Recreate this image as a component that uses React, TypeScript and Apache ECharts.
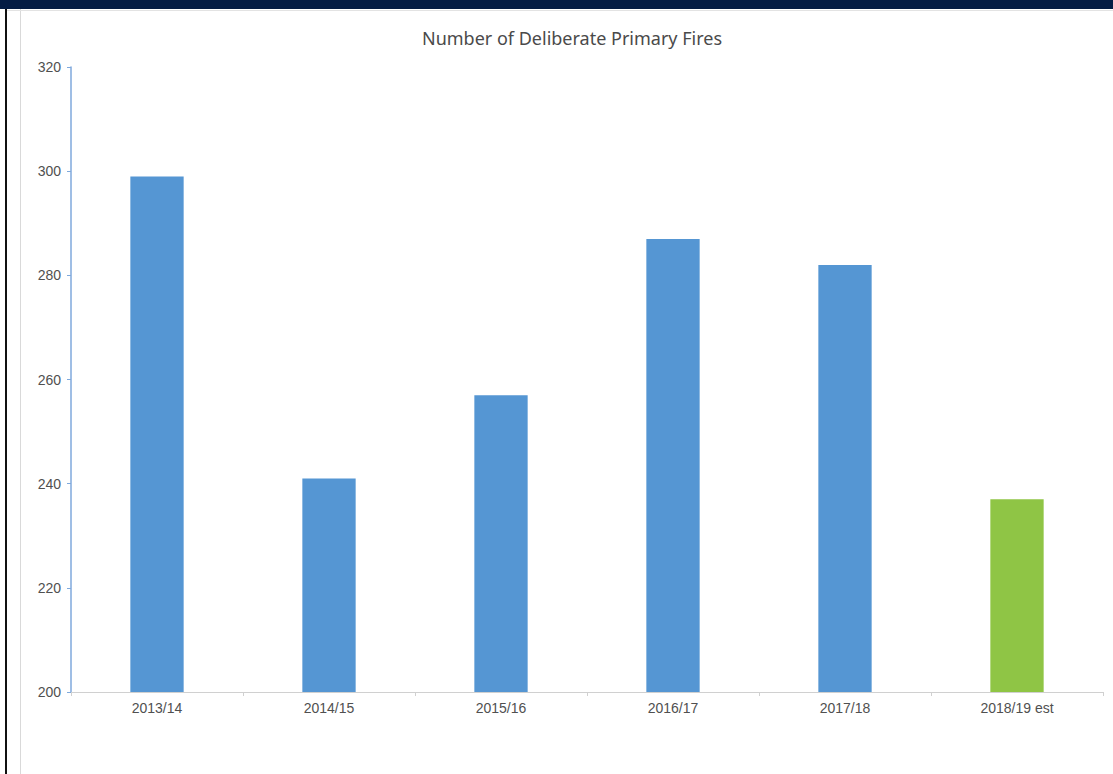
import React, { useEffect, useRef } from "react";
import * as echarts from "echarts";

const categories = ["2013/14", "2014/15", "2015/16", "2016/17", "2017/18", "2018/19 est"];
const values = [299, 241, 257, 287, 282, 237];
const barColors = ["#5596d3", "#5596d3", "#5596d3", "#5596d3", "#5596d3", "#8fc545"];
const yTicks = { min: 200, max: 320, interval: 20 };
const title = "Number of Deliberate Primary Fires";

export default function App() {
  const ref = useRef<HTMLDivElement>(null);
  useEffect(() => {
    const chart = echarts.init(ref.current!, null, { renderer: "svg" });
    chart.setOption({
      animation: false,
      backgroundColor: "#ffffff",
      title: {
        text: title,
        left: 567,
        textAlign: "center",
        top: 24,
        textStyle: { fontFamily: "Noto Sans", fontSize: 18, fontWeight: "normal", color: "#4a4a4a" },
      },
      graphic: [
        { type: "rect", shape: { x: 0, y: 0, width: 1113, height: 9 }, style: { fill: "#041c44" } },
        { type: "rect", shape: { x: 5, y: 9, width: 2, height: 765 }, style: { fill: "#111111" } },
        { type: "line", shape: { x1: 20.5, y1: 9, x2: 20.5, y2: 774 }, style: { stroke: "#d9d9d9", lineWidth: 1 } },
        { type: "line", shape: { x1: 7, y1: 10.5, x2: 1113, y2: 10.5 }, style: { stroke: "#e3e3e3", lineWidth: 1 } },
      ],
      grid: { left: 71, right: 10, top: 67, bottom: 82, containLabel: false },
      xAxis: {
        type: "category",
        data: categories,
        axisLine: { lineStyle: { color: "#d0d0d0", width: 1 } },
        axisTick: { show: true, length: 4, lineStyle: { color: "#d0d0d0" } },
        axisLabel: { fontFamily: "Liberation Sans", fontSize: 14, color: "#505050", margin: 9 },
      },
      yAxis: {
        type: "value",
        min: yTicks.min,
        max: yTicks.max,
        interval: yTicks.interval,
        splitLine: { show: false },
        axisLine: { show: true, lineStyle: { color: "#7fa9dc", width: 1.5 } },
        axisTick: { show: true, length: 4, lineStyle: { color: "#7fa9dc" } },
        axisLabel: { fontFamily: "Liberation Sans", fontSize: 14, color: "#505050", margin: 10 },
      },
      series: [
        {
          type: "bar",
          data: values.map((v, i) => ({ value: v, itemStyle: { color: barColors[i] } })),
          barWidth: "31%",
        },
      ],
    });
    return () => chart.dispose();
  }, []);
  return (
    <div
      ref={ref}
      style={{ position: "fixed", left: 0, top: 0, width: 1113, height: 774 }}
    />
  );
}
